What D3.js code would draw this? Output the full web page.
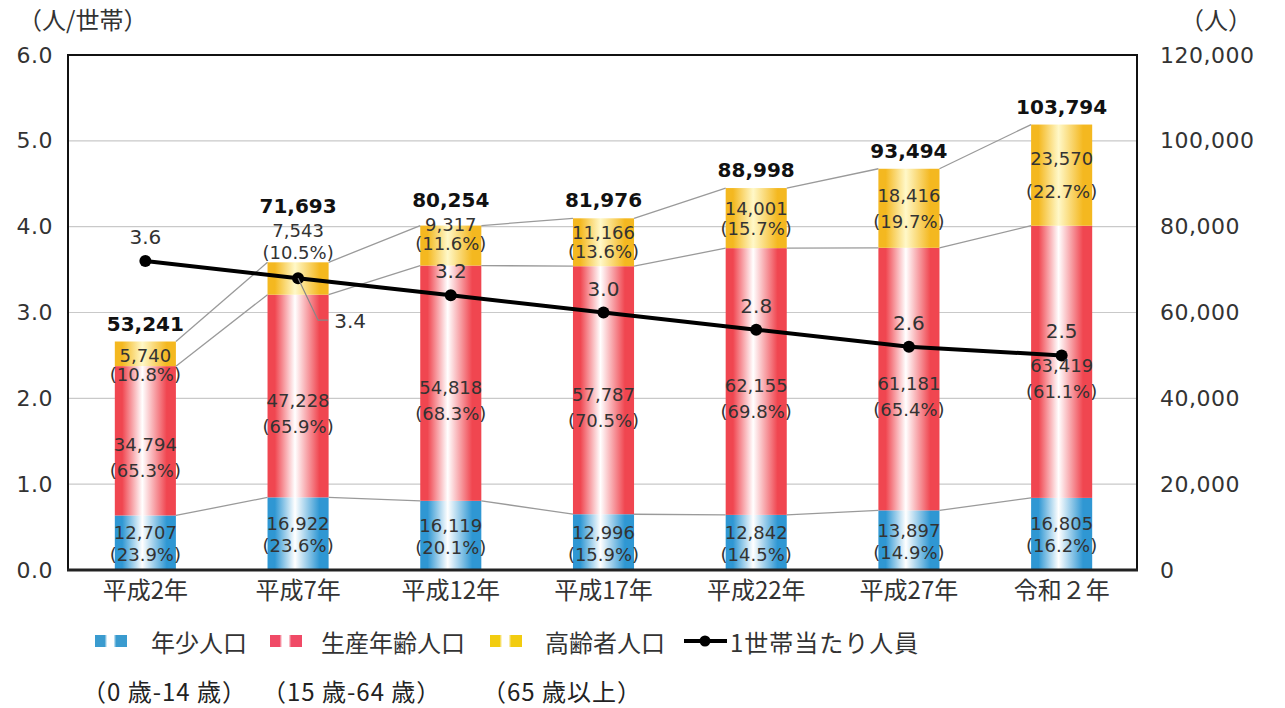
<!DOCTYPE html>
<html>
<head>
<meta charset="utf-8">
<script src="https://cdn.jsdelivr.net/npm/d3@7/dist/d3.min.js"></script>
<style>
  html, body { margin: 0; padding: 0; background: #fff; }
  svg { display: block; }
</style>
</head>
<body>
<svg id="chart" width="1285" height="708"></svg>
<script>
// ---- data ----
const categories = ["平成2年", "平成7年", "平成12年", "平成17年", "平成22年", "平成27年", "令和２年"];
const young   = [12707, 16922, 16119, 12996, 12842, 13897, 16805];
const working = [34794, 47228, 54818, 57787, 62155, 61181, 63419];
const elderly = [5740, 7543, 9317, 11166, 14001, 18416, 23570];
const totals  = [53241, 71693, 80254, 81976, 88998, 93494, 103794];
const youngPct   = ["23.9", "23.6", "20.1", "15.9", "14.5", "14.9", "16.2"];
const workingPct = ["65.3", "65.9", "68.3", "70.5", "69.8", "65.4", "61.1"];
const elderlyPct = ["10.8", "10.5", "11.6", "13.6", "15.7", "19.7", "22.7"];
const perHousehold = [3.6, 3.4, 3.2, 3.0, 2.8, 2.6, 2.5];
const leftTicks  = [0, 1, 2, 3, 4, 5, 6];
const rightTicks = [0, 20000, 40000, 60000, 80000, 100000, 120000];
const seriesNames = ["年少人口", "生産年齢人口", "高齢者人口", "1世帯当たり人員"];
const ageRanges = ["（0 歳-14 歳）", "（15 歳-64 歳）", "（65 歳以上）"];

// ---- setup ----
const svg = d3.select("#chart");
const PL = 68, PR = 1137, PT = 55, PB = 570;
const numFont = "DejaVu Sans, sans-serif";
const jpFont = "'Noto Sans CJK JP', sans-serif";

const x = d3.scaleBand().domain(categories).range([PL + 1, PR + 1]).paddingInner(0.6).paddingOuter(0.3);
const yL = d3.scaleLinear().domain([0, 6]).range([PB, PT]);
const yR = d3.scaleLinear().domain([0, 120000]).range([PB, PT]);
const fmt = d3.format(",");

// gradients
const defs = svg.append("defs");
function grad(id, stops) {
  const g = defs.append("linearGradient").attr("id", id).attr("x1", "0%").attr("x2", "100%").attr("y1", "0%").attr("y2", "0%");
  stops.forEach(([o, c]) => g.append("stop").attr("offset", o).attr("stop-color", c));
}
function barStops(edge, mid) { return [["0%", edge], ["12%", edge], ["45%", mid], ["85%", edge], ["100%", edge]]; }
function legStops(edge, mid) { return [["0%", edge], ["30%", edge], ["38%", mid], ["58%", mid], ["66%", edge], ["100%", edge]]; }
grad("gBlue", barStops("#2f97d3", "#ffffff"));
grad("gRed", barStops("#f04650", "#ffffff"));
grad("gYellow", barStops("#f4b820", "#fff8c8"));
grad("lBlue", legStops("#3a9bcf", "#ffffff"));
grad("lRed", legStops("#f04a66", "#ffffff"));
grad("lYellow", legStops("#f2cc10", "#ffffff"));

// gridlines
svg.append("g").selectAll("line").data(leftTicks.filter(d => d > 0 && d < 6)).join("line")
  .attr("x1", PL).attr("x2", PR)
  .attr("y1", d => yL(d)).attr("y2", d => yL(d))
  .attr("stroke", "#c9c9c9").attr("stroke-width", 1.2);

// axes (tick labels)
const axL = svg.append("g").attr("transform", `translate(${PL},0)`)
  .call(d3.axisLeft(yL).tickValues(leftTicks).tickFormat(d3.format(".1f")).tickSize(0).tickPadding(15));
axL.select(".domain").remove();
axL.selectAll("text").attr("font-family", numFont).attr("font-size", 22).attr("fill", "#333").attr("letter-spacing", 0.5);

const axR = svg.append("g").attr("transform", `translate(${PR},0)`)
  .call(d3.axisRight(yR).tickValues(rightTicks).tickFormat(fmt).tickSize(0).tickPadding(23));
axR.select(".domain").remove();
axR.selectAll("text").attr("font-family", numFont).attr("font-size", 22).attr("fill", "#333").attr("letter-spacing", 0.5);

const axB = svg.append("g").attr("transform", `translate(0,${PB})`)
  .call(d3.axisBottom(x).tickSize(0).tickPadding(12));
axB.select(".domain").remove();
axB.selectAll("text").attr("font-family", jpFont).attr("font-size", 24).attr("fill", "#333");

// axis titles
svg.append("text").attr("x", 18).attr("y", 29).text("（人/世帯）")
  .attr("font-family", jpFont).attr("font-size", 24).attr("fill", "#333");
svg.append("text").attr("x", 1180).attr("y", 29).text("（人）")
  .attr("font-family", jpFont).attr("font-size", 24).attr("fill", "#333");

// stacked bars
const bw = x.bandwidth();
const rows = categories.map((c, i) => ({
  c, i,
  y0: 0, y1: young[i], y2: young[i] + working[i], y3: young[i] + working[i] + elderly[i]
}));
const gBars = svg.append("g");
const segs = [["y0", "y1", "gBlue"], ["y1", "y2", "gRed"], ["y2", "y3", "gYellow"]];
segs.forEach(([a, b, g]) => {
  gBars.selectAll(null).data(rows).join("rect")
    .attr("x", d => x(d.c)).attr("width", bw)
    .attr("y", d => yR(d[b])).attr("height", d => yR(d[a]) - yR(d[b]))
    .attr("fill", `url(#${g})`);
});

// connector lines between bars
const gConn = svg.append("g");
["y1", "y2", "y3"].forEach(k => {
  gConn.selectAll(null).data(rows.slice(0, -1)).join("line")
    .attr("x1", d => x(d.c) + bw).attr("y1", d => yR(d[k]))
    .attr("x2", d => x(categories[d.i + 1])).attr("y2", d => yR(rows[d.i + 1][k]))
    .attr("stroke", "#9a9a9a").attr("stroke-width", 1.3);
});

// frame
svg.append("path")
  .attr("d", `M${PL},${PB}V${PT}H${PR}V${PB}`)
  .attr("fill", "none").attr("stroke", "#111").attr("stroke-width", 2);
svg.append("line").attr("x1", PL - 1).attr("x2", PR + 1).attr("y1", PB).attr("y2", PB)
  .attr("stroke", "#222").attr("stroke-width", 3);

// line series
const cx = d => x(d) + bw / 2;
const lineGen = d3.line().x((d, i) => cx(categories[i])).y(d => yL(d));
svg.append("path").datum(perHousehold).attr("d", lineGen)
  .attr("fill", "none").attr("stroke", "#000").attr("stroke-width", 4);
svg.append("g").selectAll("circle").data(perHousehold).join("circle")
  .attr("cx", (d, i) => cx(categories[i])).attr("cy", d => yL(d)).attr("r", 6).attr("fill", "#000");

// labels
const gLab = svg.append("g").attr("text-anchor", "middle").attr("dominant-baseline", "central");
function lab(xp, yp, t, size, fill, weight) {
  gLab.append("text").attr("x", xp).attr("y", yp).text(t)
    .attr("font-family", numFont).attr("font-size", size).attr("fill", fill)
    .attr("font-weight", weight || "normal");
}
rows.forEach(d => {
  const xc = cx(d.c), i = d.i;
  // young
  const ym = (yR(d.y0) + yR(d.y1)) / 2;
  lab(xc, ym - 10, fmt(young[i]), 18, "#333");
  lab(xc, ym + 12, `(${youngPct[i]}%)`, 18, "#333");
  // working
  const wm = (yR(d.y1) + yR(d.y2)) / 2;
  lab(xc, wm + 4, fmt(working[i]), 18, "#333");
  lab(xc, wm + 30, `(${workingPct[i]}%)`, 18, "#333");
  // elderly
  const sTop = yR(d.y3), sBot = yR(d.y2);
  const py = yL(perHousehold[i]);
  const lineLabY = py - 24;
  const overlap = py >= sTop && py <= sBot;
  let vY, pY;
  if (overlap) {
    pY = sTop - 10; vY = pY - 22;
  } else {
    const gap = Math.max(19, Math.min(34, (sBot - sTop) / 3));
    vY = Math.max(sTop + 14, (sTop + sBot) / 2 - gap / 2);
    pY = vY + gap;
    if (lineLabY - pY < 28 && lineLabY > pY - 10) {
      pY = lineLabY - 28; vY = pY - 19;
    }
  }
  lab(xc, vY, fmt(elderly[i]), 18, "#333");
  lab(xc, pY, `(${elderlyPct[i]}%)`, 18, "#333");
  // total
  lab(xc, Math.min(sTop - 18, vY - 24), fmt(totals[i]), 20, "#111", "bold");
  // per household
  if (overlap) {
    svg.append("polyline")
      .attr("points", `${xc},${py} ${xc + 20},${py + 42} ${xc + 30},${py + 42}`)
      .attr("fill", "none").attr("stroke", "#888").attr("stroke-width", 1.2);
    lab(xc + 52, py + 43, d3.format(".1f")(perHousehold[i]), 20, "#333");
  } else {
    lab(xc, lineLabY, d3.format(".1f")(perHousehold[i]), 20, "#333");
  }
});

// legend
const legend = svg.append("g");
const legItems = [
  { sw: 95, tx: 151, g: "lBlue" },
  { sw: 270, tx: 321, g: "lRed" },
  { sw: 490, tx: 545, g: "lYellow" }
];
const ly = 641;
legItems.forEach((it, k) => {
  legend.append("rect").attr("x", it.sw).attr("y", ly - 6).attr("width", 32).attr("height", 12)
    .attr("fill", `url(#${it.g})`);
  legend.append("text").attr("x", it.tx).attr("y", ly).attr("dominant-baseline", "central")
    .text(seriesNames[k]).attr("font-family", jpFont).attr("font-size", 24).attr("fill", "#333");
});
legend.append("line").attr("x1", 684).attr("x2", 727).attr("y1", ly).attr("y2", ly)
  .attr("stroke", "#000").attr("stroke-width", 4);
legend.append("circle").attr("cx", 705).attr("cy", ly).attr("r", 5.5).attr("fill", "#000");
legend.append("text").attr("x", 730).attr("y", ly).attr("dominant-baseline", "central")
  .text(seriesNames[3]).attr("font-family", jpFont).attr("font-size", 24).attr("fill", "#333")
  .attr("letter-spacing", 1);

const subX = [82, 262, 482];
ageRanges.forEach((t, k) => {
  legend.append("text").attr("x", subX[k]).attr("y", 690).attr("dominant-baseline", "central")
    .text(t).attr("font-family", jpFont).attr("font-size", 24).attr("fill", "#222")
    .attr("letter-spacing", 1);
});
</script>
</body>
</html>
